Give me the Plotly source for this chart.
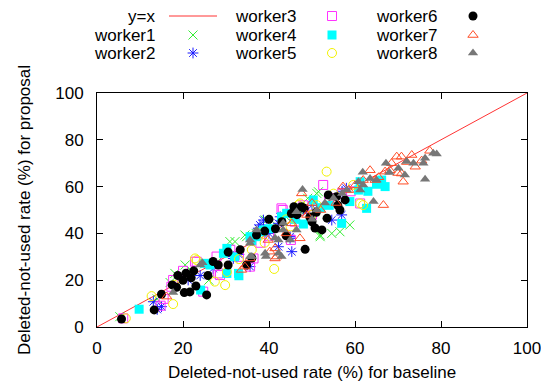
import plotly.graph_objects as go

# ---------------- data (baseline %, proposal %) ----------------
diag_x = [0, 100]
diag_y = [0, 100]

w1_x = [5.3, 14, 17, 18.1, 20.5, 22, 25, 28, 30.9, 32.1, 34.4, 34.8, 37, 39.1, 39.5, 42, 44, 47, 51.1, 51.5, 51.9, 51.9, 54.6, 56.5, 58.8, 49, 26]
w1_y = [4.4, 12, 19, 22.9, 26.5, 24, 27, 28, 36.5, 36.5, 39.3, 38.6, 40, 45.7, 45.7, 43, 47, 50, 57.1, 57.8, 39.3, 38.6, 40, 40.7, 43.6, 55, 20]

w2_x = [13.1, 15, 14, 21.2, 24, 27, 31.7, 31.7, 33, 35.6, 37.5, 37.9, 38.7, 40, 42.2, 42.2, 42.6, 44.9, 44.9, 45.3, 48, 50, 54.6, 56.9, 58, 57, 46]
w2_y = [10.8, 8.7, 7.5, 20.1, 22, 25, 30.1, 29.3, 31, 25.8, 42.2, 43.6, 45.7, 40, 34.3, 44.3, 47.1, 37.9, 38.6, 32.2, 50, 52, 45.7, 47.9, 59.3, 58, 46]

w3_x = [6.1, 14.8, 15.5, 17.3, 17.7, 22.8, 23.2, 24.7, 27.8, 28.2, 28.6, 33, 35.6, 36.4, 38, 40, 42.9, 43.2, 45.1, 46, 48, 50, 52.6, 54, 57, 59, 61.2, 20, 31]
w3_y = [3.7, 9.1, 12, 17.2, 20.1, 27.9, 27.9, 15.1, 30.1, 22.9, 22.2, 30, 25.8, 29.3, 36, 39, 50.7, 50, 37.2, 45, 52, 48, 60.7, 55, 57, 58, 52.8, 24, 33]

w4_x = [9.8, 24.1, 25.1, 26.3, 29.4, 30.2, 30.2, 32.9, 33, 35.6, 37.1, 38.3, 38.7, 40, 42.9, 44.1, 46, 48, 50.3, 52, 56.9, 58.8, 60.8, 61.2, 62.7, 63, 66.2, 67, 65, 54, 32, 36]
w4_y = [7.6, 15.8, 27.2, 26.5, 31.5, 22.9, 33.6, 22.9, 21.9, 38.6, 38.6, 40.7, 41.5, 42, 47.1, 48.6, 46, 44, 54.3, 51, 44.3, 53.6, 58.5, 62.1, 50.7, 58, 62.8, 60, 61, 52, 30, 37]

w5_x = [6.7, 12.7, 17.7, 18, 23.2, 22.8, 27.4, 29.8, 30.2, 33, 36, 38, 41.2, 44, 46.8, 47.2, 50, 51.1, 53.4, 55, 59.6, 61.2, 61.9, 45, 39]
w5_y = [3.7, 13.2, 9.8, 18, 28.6, 29.3, 19.4, 17.9, 23.5, 29, 33, 40, 24.8, 46, 52.1, 52.8, 48, 52.1, 66.4, 57, 60.7, 52.8, 52.1, 43, 36]

w6_x = [5.7, 13.3, 15, 17.5, 18.5, 18.8, 20, 20.7, 21.9, 22.5, 23, 25.5, 25.8, 27, 28.2, 30.5, 30.5, 33.3, 34.8, 36, 37.1, 39, 40, 41.5, 45.8, 47.5, 45.2, 46.5, 48.2, 48.4, 50, 50.7, 52.3, 53.5, 53.8, 55.7, 57.7, 56, 56.5, 49.5, 51, 43, 44, 20.3, 21.6]
w6_y = [3.4, 7.3, 14, 18, 17, 22, 20, 23, 21, 24, 17.5, 13.7, 22, 28, 26.5, 26.5, 32, 33, 26.5, 29.5, 39.3, 41, 46, 42, 51.4, 51.4, 48.5, 48, 50.7, 33.2, 45, 42.3, 41.5, 46.5, 56.4, 55.7, 54.3, 52, 50, 47, 49, 45, 39, 14.7, 15]

w7_x = [16.2, 33.6, 34.4, 35.6, 39.8, 40.2, 41.4, 41.8, 41.4, 45.3, 47.2, 47.6, 48.8, 52, 55.6, 57.2, 58.5, 61.9, 63.5, 64.7, 65.5, 66.6, 67, 68.1, 68.5, 69.7, 70, 70.8, 70.8, 71.2, 72, 73.2, 74, 75.5, 77.4, 44, 50, 60]
w7_y = [13, 24.4, 25.8, 29.3, 37.2, 32.2, 29.3, 30.1, 33.6, 44.3, 37.9, 57.1, 47.9, 50, 53, 60, 58.5, 62.8, 67, 62.8, 64, 52.1, 66.4, 67, 70, 72.8, 65.8, 72.8, 65.6, 62.1, 70.5, 73.5, 68.5, 71.1, 75.3, 40, 53, 60.5]

w8_x = [17.7, 24, 24.5, 35.6, 35.6, 35.6, 36, 37.1, 39.1, 39.3, 41.4, 42.2, 42.2, 42.9, 43.3, 43.3, 44.9, 46.4, 46.4, 47.8, 51.1, 53, 58.1, 60.8, 61.2, 61.8, 61.9, 63.5, 64.3, 65, 67.2, 68, 70.1, 71.6, 72, 73.6, 75.9, 76.3, 76.3, 78.2, 79, 55, 50, 57]
w8_y = [14.7, 26.5, 27.5, 30.1, 35.8, 37.2, 30.1, 41.5, 31.5, 30.1, 38, 31.5, 37.2, 30.1, 41.5, 44.3, 37.2, 41.5, 49.3, 58.8, 50, 53, 58.5, 62.1, 58.5, 66.1, 60.7, 63.5, 53.6, 62.8, 70, 66, 67.8, 65, 70.7, 70, 70, 72.1, 63.1, 74.2, 73.9, 55, 46, 57]

series_names = ["worker1", "worker2", "worker3", "worker4", "worker5", "worker6", "worker7", "worker8"]
series_x = [w1_x, w2_x, w3_x, w4_x, w5_x, w6_x, w7_x, w8_x]
series_y = [w1_y, w2_y, w3_y, w4_y, w5_y, w6_y, w7_y, w8_y]

tick_vals = [0, 20, 40, 60, 80, 100]

# ---------------- styles ----------------
FONT = "Liberation Sans, Arial, Helvetica, sans-serif"
LINE_COLOR = "#ff3333"
styles = [
    dict(symbol="x-thin-open", color="#33ee33", size=9, lw=1),
    dict(symbol="asterisk-open", color="#1a1aff", size=9, lw=1),
    dict(symbol="square-open", color="#ff33ff", size=9, lw=1),
    dict(symbol="square", color="#00ffff", size=9, lw=0),
    dict(symbol="circle-open", color="#f2f200", size=9, lw=1),
    dict(symbol="circle", color="#000000", size=9, lw=0),
    dict(symbol="triangle-up-open", color="#ff4d26", size=9, lw=1),
    dict(symbol="triangle-up", color="#777777", size=9, lw=0),
]

# The page body has an 8px margin, so figure pixels = page pixels - 8.
OFF = 8
W, H = 549 - OFF, 382 - OFF
L, R, T, B = 97 - OFF, 527 - OFF, 93 - OFF, 327 - OFF

fig = go.Figure()

fig.add_trace(go.Scatter(x=diag_x, y=diag_y, mode="lines",
                         line=dict(color=LINE_COLOR, width=1),
                         showlegend=False, hoverinfo="skip"))

for name, xs, ys, st in zip(series_names, series_x, series_y, styles):
    fig.add_trace(go.Scatter(
        x=xs, y=ys, mode="markers", name=name, showlegend=False,
        marker=dict(symbol=st["symbol"], color=st["color"], size=st["size"],
                    line=dict(color=st["color"], width=st["lw"]))))

# ---------------- custom legend band above the frame (label, then key) ----------------
LEG_DOM = 0.78
leg_h = B * (1 - LEG_DOM)           # band height in figure pixels
leg_names = ["y=x"] + series_names
leg_col = [0, 0, 0, 1, 1, 1, 2, 2, 2]
leg_row = [0, 1, 2, 0, 1, 2, 0, 1, 2]
col_text_right = [157 - OFF, 298 - OFF, 439 - OFF]
col_key = [193 - OFF, 332 - OFF, 473 - OFF]
row_y = [16 - OFF, 35 - OFF, 53 - OFF]

for i, name in enumerate(leg_names):
    c, r = leg_col[i], leg_row[i]
    fig.add_annotation(x=col_text_right[c], y=row_y[r], xref="x2", yref="y2",
                       text=name, showarrow=False, xanchor="right", yanchor="middle",
                       font=dict(family=FONT, size=17, color="black"))
    if i == 0:
        fig.add_trace(go.Scatter(x=[169 - OFF, 217 - OFF], y=[row_y[r], row_y[r]], mode="lines",
                                 line=dict(color=LINE_COLOR, width=1),
                                 xaxis="x2", yaxis="y2", showlegend=False, hoverinfo="skip"))
    else:
        st = styles[i - 1]
        fig.add_trace(go.Scatter(x=[col_key[c]], y=[row_y[r]], mode="markers",
                                 marker=dict(symbol=st["symbol"], color=st["color"], size=st["size"],
                                             line=dict(color=st["color"], width=st["lw"])),
                                 xaxis="x2", yaxis="y2", showlegend=False, hoverinfo="skip"))

axis_common = dict(range=[0, 100], tickvals=tick_vals, ticks="inside", ticklen=6,
                   tickwidth=1, tickcolor="black", showline=True, linecolor="black",
                   linewidth=1, mirror="ticks", showgrid=False, zeroline=False,
                   automargin=False,
                   tickfont=dict(family=FONT, size=17, color="black"))

fig.update_layout(
    width=W, height=H,
    margin=dict(l=L, r=W - R, t=0, b=H - B, autoexpand=False),
    paper_bgcolor="white", plot_bgcolor="white",
    font=dict(family=FONT, size=17, color="black"),
    xaxis=dict(**axis_common, ticklabelstandoff=6,
               title=dict(text="Deleted-not-used rate (%) for baseline",
                          font=dict(family=FONT, size=17), standoff=12)),
    yaxis=dict(**axis_common, domain=[0, (B - T) / B], ticklabelstandoff=9,
               title=dict(text="Deleted-not-used rate (%) for proposal",
                          font=dict(family=FONT, size=17), standoff=20)),
    xaxis2=dict(domain=[0, 1], range=[L, R], visible=False, anchor="y2",
                fixedrange=True, automargin=False),
    yaxis2=dict(domain=[LEG_DOM, 1], range=[leg_h, 0], visible=False, anchor="x2",
                fixedrange=True, automargin=False),
    showlegend=False,
)

fig.write_html("out.html")
